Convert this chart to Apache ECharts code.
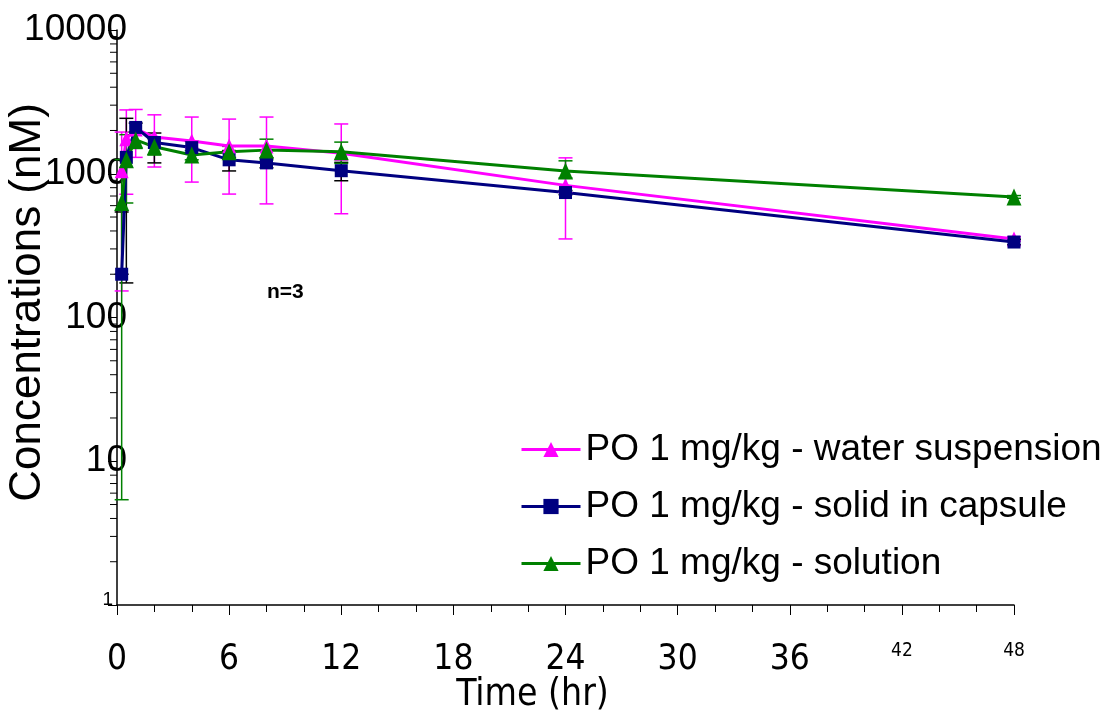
<!DOCTYPE html>
<html>
<head>
<meta charset="utf-8">
<script src="https://cdn.jsdelivr.net/npm/echarts@6/dist/echarts.min.js"></script>
<style>
  html, body { margin: 0; padding: 0; background: #fff; }
  #chart { width: 1106px; height: 721px; }
</style>
</head>
<body>
<div id="chart"></div>
<script>
// sampling times (hr)
const times = [0.25, 0.5, 1, 2, 4, 6, 8, 12, 24, 48]

// PO 1 mg/kg - water suspension
const waterMean = [1050, 1750, 2050, 1800, 1690, 1560, 1560, 1390, 830, 352]
const waterLow = [153, 720, 1300, 1114, 875, 722, 617, 527, 352, 340]
const waterHigh = [1950, 2780, 2800, 2570, 2480, 2400, 2480, 2220, 1290, 365]

// PO 1 mg/kg - solid in capsule
const capsuleMean = [200, 1300, 2100, 1650, 1520, 1250, 1190, 1050, 740, 335]
const capsuleLow = [200, 174, 1950, 1190, 1380, 1046, 1100, 894, 715, 320]
const capsuleHigh = [542, 2430, 2250, 1920, 1680, 1450, 1290, 1200, 765, 350]

// PO 1 mg/kg - solution
const solutionMean = [630, 1250, 1720, 1540, 1350, 1420, 1460, 1420, 1045, 690]
const solutionLow = [5.4, 626, 1500, 1350, 1250, 1300, 1250, 1180, 935, 675]
const solutionHigh = [1255, 1870, 1950, 1750, 1450, 1550, 1740, 1660, 1230, 705]

// log axis minor ticks
const minorTicks = [2, 3, 4, 5, 6, 7, 8, 9, 20, 30, 40, 50, 60, 70, 80, 90,
  200, 300, 400, 500, 600, 700, 800, 900, 2000, 3000, 4000, 5000, 6000, 7000, 8000, 9000]

const names = ['PO 1 mg/kg - water suspension', 'PO 1 mg/kg - solid in capsule', 'PO 1 mg/kg - solution']
const ARIAL = '"Liberation Sans", Arial, sans-serif'
const NARROW = '"Liberation Sans Narrow", "DejaVu Sans Condensed", "Liberation Sans", sans-serif'

const myChart = echarts.init(document.getElementById('chart'))

function pairs(mean) {
  return times.map((t, i) => [t, mean[i]])
}

function errSeries(low, high, color) {
  return {
    type: 'custom',
    silent: true,
    clip: false,
    z: 1,
    data: times.map((t, i) => [t, low[i], high[i]]),
    encode: { x: 0, y: [1, 2] },
    renderItem(params, api) {
      const x = api.value(0)
      const lo = api.coord([x, api.value(1)])
      const hi = api.coord([x, api.value(2)])
      const w = 7
      const style = { stroke: color, lineWidth: 1.5 }
      return {
        type: 'group',
        children: [
          { type: 'line', shape: { x1: lo[0], y1: lo[1], x2: hi[0], y2: hi[1] }, style },
          { type: 'line', shape: { x1: hi[0] - w, y1: hi[1], x2: hi[0] + w, y2: hi[1] }, style },
          { type: 'line', shape: { x1: lo[0] - w, y1: lo[1], x2: lo[0] + w, y2: lo[1] }, style }
        ]
      }
    }
  }
}

function lineSeries(name, mean, color, symbol, size) {
  return {
    name: name,
    type: 'line',
    data: pairs(mean),
    symbol: symbol,
    symbolSize: size,
    showAllSymbol: true,
    z: 3,
    lineStyle: { color: color, width: 3 },
    itemStyle: { color: color },
    emphasis: { disabled: true }
  }
}

var option = {
  animation: false,
  backgroundColor: '#fff',
  grid: { left: 117, right: 92, top: 30, bottom: 116, containLabel: false, outerBoundsMode: 'none' },
  title: {
    text: 'n=3',
    left: 262,
    top: 277,
    textStyle: { fontFamily: ARIAL, fontSize: 21, fontWeight: 'bold', color: '#000' }
  },
  legend: {
    data: names,
    orient: 'vertical',
    left: 520,
    top: 431,
    padding: 0,
    itemWidth: 59,
    itemHeight: 19,
    itemGap: 20,
    lineStyle: { width: 3 },
    textStyle: { fontFamily: ARIAL, fontSize: 37, color: '#000' }
  },
  xAxis: {
    type: 'value',
    min: 0,
    max: 48,
    interval: 6,
    name: 'Time (hr)',
    nameLocation: 'middle',
    nameMoveOverlap: false,
    nameGap: 72,
    nameTextStyle: { fontFamily: NARROW, fontSize: 37, color: '#000', padding: [0, 66, 0, 0] },
    axisLine: { show: true, onZero: false, lineStyle: { color: '#000', width: 1.5 } },
    axisTick: { show: true, length: 10, lineStyle: { color: '#000' } },
    minorTick: { show: true, splitNumber: 3, length: 7, lineStyle: { color: '#000' } },
    splitLine: { show: false },
    axisLabel: {
      margin: 37,
      color: '#000',
      formatter: v => (v >= 42 ? '{s|' + v + '}' : '{b|' + v + '}'),
      rich: {
        b: { fontFamily: NARROW, fontSize: 35, color: '#000' },
        s: { fontFamily: NARROW, fontSize: 19, color: '#000' }
      }
    }
  },
  yAxis: {
    type: 'log',
    logBase: 10,
    min: 1,
    max: 10000,
    name: 'Concentrations (nM)',
    nameLocation: 'middle',
    nameMoveOverlap: false,
    nameGap: 67,
    nameTextStyle: { fontFamily: ARIAL, fontSize: 44, color: '#000', padding: [0, 0, 0, 30] },
    axisLine: { show: true, onZero: false, lineStyle: { color: '#000', width: 1.5 } },
    axisTick: { show: true, length: 9, lineStyle: { color: '#000' } },
    splitLine: { show: false },
    axisLabel: {
      margin: -10,
      color: '#000',
      formatter: v => (v === 1 ? '{s|1}' : '{b|' + v + '}'),
      rich: {
        b: { fontFamily: ARIAL, fontSize: 37, color: '#000' },
        s: { fontFamily: ARIAL, fontSize: 19, color: '#000', padding: [0, 14, 10, 0] }
      }
    }
  },
  series: [
    {
      type: 'custom',
      silent: true,
      clip: false,
      z: 1,
      data: minorTicks.map(v => [0, v]),
      renderItem(params, api) {
        const p = api.coord([0, api.value(1)])
        return {
          type: 'line',
          shape: { x1: p[0] - 7, y1: p[1], x2: p[0], y2: p[1] },
          style: { stroke: '#000', lineWidth: 1 }
        }
      }
    },
    errSeries(waterLow, waterHigh, '#ff00ff'),
    errSeries(capsuleLow, capsuleHigh, '#000000'),
    errSeries(solutionLow, solutionHigh, '#008000'),
    lineSeries(names[0], waterMean, '#ff00ff', 'triangle', [14, 15]),
    lineSeries(names[1], capsuleMean, '#000080', 'rect', [13, 13]),
    lineSeries(names[2], solutionMean, '#008000', 'triangle', [15, 17])
  ]
}

option && myChart.setOption(option)
</script>
</body>
</html>
